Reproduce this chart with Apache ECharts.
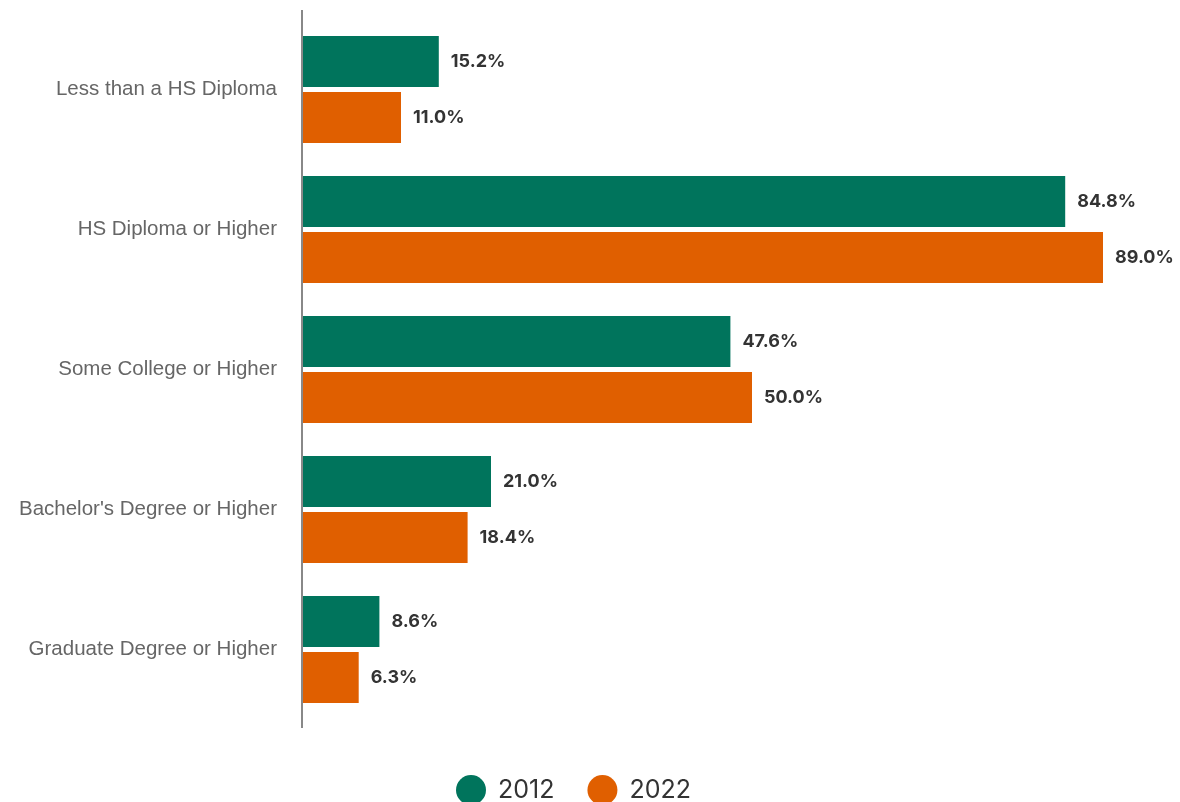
<!DOCTYPE html>
<html>
<head>
<meta charset="utf-8" />
<title>Educational attainment</title>
<script src="https://cdn.jsdelivr.net/npm/echarts@6.0.0/dist/echarts.min.js"></script>
<style>
html, body { margin: 0; padding: 0; background: #fff; }
</style>
</head>
<body>
<div id="main" style="width: 1180px;height:802px;"></div>
<script type="text/javascript">
// categories and values
var categories = [
  'Less than a HS Diploma',
  'HS Diploma or Higher',
  'Some College or Higher',
  "Bachelor's Degree or Higher",
  'Graduate Degree or Higher'
];
var years = ['2012', '2022'];
var values2012 = [15.2, 84.8, 47.6, 21.0, 8.6];
var values2022 = [11.0, 89.0, 50.0, 18.4, 6.3];

var colors = ['#00745c', '#e05f00'];

var myChart = echarts.init(document.getElementById('main'));

function barSeries(name, data, color) {
  return {
    name: name,
    type: 'bar',
    data: data,
    barWidth: 51,
    barGap: '10%',
    itemStyle: { color: color },
    label: {
      show: true,
      position: 'right',
      distance: 12,
      formatter: function (p) { return p.value.toFixed(1) + '%'; },
      color: '#333',
      fontFamily: 'Inter',
      fontWeight: 700,
      fontSize: 18
    }
  };
}

var option = {
  animation: false,
  color: colors,
  grid: {
    left: 302,
    top: 19.5,
    width: 810,
    height: 700
  },
  legend: {
    data: years,
    left: 451,
    top: 770,
    icon: 'circle',
    itemWidth: 30,
    itemHeight: 30,
    itemGap: 33,
    textStyle: {
      fontFamily: 'Inter',
      fontSize: 25,
      color: '#333',
      padding: [0, 0, 0, 7]
    }
  },
  xAxis: {
    type: 'value',
    min: 0,
    max: 90,
    show: false
  },
  yAxis: {
    type: 'category',
    data: categories,
    inverse: true,
    axisLine: { show: false },
    axisTick: { show: false },
    axisLabel: {
      margin: 25,
      fontFamily: 'Liberation Sans',
      fontSize: 20.5,
      color: '#666'
    }
  },
  // axis line drawn slightly longer than the grid, as in the source
  graphic: [{
    type: 'line',
    shape: { x1: 302, y1: 10, x2: 302, y2: 728 },
    style: { stroke: '#888', lineWidth: 2 },
    z: 10
  }],
  series: [
    barSeries(years[0], values2012, colors[0]),
    barSeries(years[1], values2022, colors[1])
  ]
};

myChart.setOption(option);
</script>
</body>
</html>
